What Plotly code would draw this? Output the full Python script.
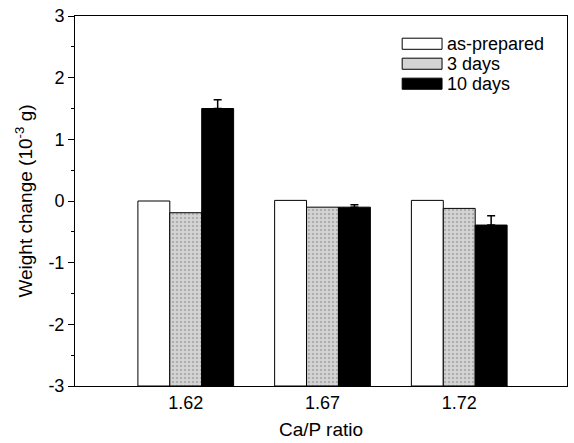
import plotly.graph_objects as go

categories = ["1.62", "1.67", "1.72"]
series_names = ["as-prepared", "3 days", "10 days"]
as_prepared = [0.0, 0.01, 0.01]
days3 = [-0.19, -0.1, -0.12]
days10 = [1.5, -0.1, -0.39]
days10_err = [0.14, 0.04, 0.15]
y_ticks = [-3, -2, -1, 0, 1, 2, 3]
y_ticktext = ["-3", "-2", "-1", "0", "1", "2", "3"]

BASE = -3
xpos = list(range(len(categories)))

colors = ["white", "#d4d4d4", "black"]
patterns = [None, dict(shape=".", fgcolor="#8a8a8a", size=4, solidity=0.3), None]
errs = [None, None, days10_err]
series = [as_prepared, days3, days10]

fig = go.Figure()
for name, vals, col, pat, err in zip(series_names, series, colors, patterns, errs):
    marker = dict(color=col, line=dict(color="black", width=1))
    if pat:
        marker["pattern"] = pat
    kw = {}
    if err is not None:
        kw["error_y"] = dict(type="data", array=err, arrayminus=[0] * len(err),
                             symmetric=False, color="black", thickness=1.5, width=4)
    fig.add_trace(go.Bar(
        x=xpos, y=[v - BASE for v in vals], base=BASE, name=name,
        marker=marker, showlegend=False, **kw))

# legend drawn as swatches + labels
legend_rows = [0.925, 0.871, 0.817]
for name, col, yc in zip(series_names, colors, legend_rows):
    fig.add_shape(type="rect", xref="paper", yref="paper",
                  x0=0.665, x1=0.746, y0=yc - 0.015, y1=yc + 0.015,
                  fillcolor=col, line=dict(color="black", width=1))
    fig.add_annotation(xref="paper", yref="paper", x=0.752, y=yc,
                       xanchor="left", yanchor="middle", text=name,
                       showarrow=False, font=dict(size=18))

fig.update_layout(
    width=574, height=443,
    margin=dict(l=75, r=6, t=15, b=56),
    paper_bgcolor="white", plot_bgcolor="white",
    barmode="group", bargap=0.3, bargroupgap=0,
    font=dict(family="Liberation Sans, Arial, sans-serif", size=18, color="black"),
    showlegend=False,
)
fig.update_xaxes(
    range=[-0.81, 2.788], tickvals=xpos, ticktext=categories,
    showline=True, linecolor="black", linewidth=1, mirror=True,
    ticks="", showgrid=False, zeroline=False, tickfont=dict(size=18),
    title=dict(text="Ca/P ratio", standoff=11, font=dict(size=19)),
)
fig.update_yaxes(
    range=[-3, 3], tickvals=y_ticks, ticktext=y_ticktext,
    ticks="outside", ticklen=6, tickcolor="black", tickfont=dict(size=18),
    showline=True, linecolor="black", linewidth=1, mirror=True,
    showgrid=False, zeroline=False,
    minor=dict(dtick=0.5, ticks="outside", ticklen=3, tickcolor="black"),
    title=dict(text="Weight change (10<sup>-3</sup> g)", standoff=10, font=dict(size=19)),
)
fig.write_html("out.html")
